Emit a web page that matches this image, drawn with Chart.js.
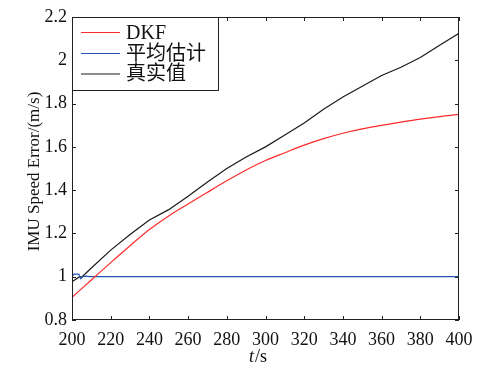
<!DOCTYPE html>
<html><head><meta charset="utf-8">
<script src="https://cdn.jsdelivr.net/npm/chart.js@4.4.1/dist/chart.umd.min.js"></script>
<style>html,body{margin:0;padding:0;background:#fff}#wrap{width:479px;height:369px}
.pre{position:absolute;left:-999px;top:0;font-family:'Liberation Serif';}
.pre2{position:absolute;left:-999px;top:0;font-family:'Noto Sans CJK SC';}</style>
</head><body><div class="pre">DKF 200 <i>t</i></div><div class="pre2">平均估计真实值</div>
<div id="wrap"><canvas id="c" width="479" height="369"></canvas></div>
<script>
const seriesNames = ['DKF', '平均估计', '真实值'];
const tDKF = [200,210,220,230,240,250,260,270,280,290,300,310,320,330,340,350,360,370,380,390,400];
const dkf  = [0.905,0.985,1.065,1.143,1.218,1.281,1.336,1.39,1.443,1.493,1.537,1.573,1.608,1.638,1.663,1.683,1.699,1.714,1.728,1.740,1.750];
const tAvg = [200,201,203.5,204.5,205.5,207,209,400];
const avg  = [1.0,1.012,1.012,0.991,1.0,1.003,1.0,1.0];
const tTrue = [200,204,205,207,210,220,230,240,250,260,270,280,290,300,310,320,330,340,350,360,370,380,390,400];
const truth = [0.977,1.0,0.998,1.015,1.04,1.123,1.195,1.262,1.31,1.372,1.438,1.5,1.553,1.6,1.655,1.71,1.774,1.83,1.88,1.93,1.968,2.013,2.069,2.125];
const xTickValues = [200,220,240,260,280,300,320,340,360,380,400];
const yTickValues = [0.8,1.0,1.2,1.4,1.6,1.8,2.0,2.2];
const xTitleItalic = 't';
const xTitleRest = '/s';
const yTitle = 'IMU Speed Error/(m/s)';

const colors = ['#ff2a2a', '#2454b0', '#1a1a1a'];
const toPts = (xs, ys) => xs.map((x, i) => ({x, y: ys[i]}));
const FONT = '"Liberation Serif", serif';

const framePlugin = {
  id: 'frame',
  afterDraw(chart) {
    const {ctx, chartArea: a, scales} = chart;
    const xs = scales.x, ys = scales.y;
    ctx.save();
    ctx.strokeStyle = '#222';
    ctx.lineWidth = 1;
    ctx.strokeRect(Math.round(a.left) + 0.5, Math.round(a.top) + 0.5, Math.round(a.right - a.left) - 1, Math.round(a.bottom - a.top) - 1);
    const tl = 4;
    ctx.beginPath();
    xTickValues.forEach(v => {
      const px = Math.round(xs.getPixelForValue(v)) + 0.5;
      ctx.moveTo(px, a.bottom); ctx.lineTo(px, a.bottom - tl);
      ctx.moveTo(px, a.top); ctx.lineTo(px, a.top + tl);
    });
    yTickValues.forEach(v => {
      const py = Math.round(ys.getPixelForValue(v)) + 0.5;
      ctx.moveTo(a.left, py); ctx.lineTo(a.left + tl, py);
      ctx.moveTo(a.right, py); ctx.lineTo(a.right - tl, py);
    });
    ctx.stroke();

    // legend
    const lx = Math.round(a.left) + 0.5, ly = Math.round(a.top) + 0.5;
    ctx.fillStyle = '#fff';
    ctx.fillRect(lx, ly, 146, 73);
    ctx.strokeStyle = '#222';
    ctx.strokeRect(lx, ly, 146, 73);
    const rows = [32.5, 53.5, 74];
    ctx.font = '20px "Liberation Serif", "Noto Sans CJK SC", serif';
    ctx.textBaseline = 'middle';
    ctx.textAlign = 'left';
    chart.data.datasets.forEach((ds, i) => {
      const y = rows[i];
      ctx.strokeStyle = ds.borderColor;
      ctx.lineWidth = 1.2;
      ctx.beginPath(); ctx.moveTo(a.left + 9, y); ctx.lineTo(a.left + 48, y); ctx.stroke();
      ctx.fillStyle = '#111';
      ctx.fillText(ds.label, a.left + 54, y + 1);
    });

    // y title
    ctx.save();
    ctx.translate(39, (a.top + a.bottom) / 2 + 3);
    ctx.rotate(-Math.PI / 2);
    ctx.font = '17px ' + FONT;
    ctx.textAlign = 'center';
    ctx.textBaseline = 'alphabetic';
    ctx.fillStyle = '#111';
    ctx.fillText(yTitle, 0, 0);
    ctx.restore();

    // x title
    ctx.fillStyle = '#111';
    ctx.textBaseline = 'alphabetic';
    ctx.textAlign = 'left';
    ctx.font = 'italic 18px ' + FONT;
    const w1 = ctx.measureText(xTitleItalic).width;
    ctx.font = '18px ' + FONT;
    const w2 = ctx.measureText(xTitleRest).width;
    const cx = (a.left + a.right) / 2 - 8;
    const sx = cx - (w1 + w2) / 2;
    ctx.font = 'italic 18px ' + FONT;
    ctx.fillText(xTitleItalic, sx, 362);
    ctx.font = '18px ' + FONT;
    ctx.fillText(xTitleRest, sx + w1 + 1, 362);
    ctx.restore();
  }
};

function draw() {
  new Chart(document.getElementById('c'), {
    type: 'line',
    data: {
      datasets: [
        {label: seriesNames[0], data: toPts(tDKF, dkf), borderColor: colors[0], borderWidth: 1.2, pointRadius: 0, tension: 0.4, cubicInterpolationMode: 'monotone', fill: false},
        {label: seriesNames[1], data: toPts(tAvg, avg), borderColor: colors[1], borderWidth: 1.2, pointRadius: 0, tension: 0, fill: false},
        {label: seriesNames[2], data: toPts(tTrue, truth), borderColor: colors[2], borderWidth: 1.2, pointRadius: 0, tension: 0, fill: false}
      ]
    },
    options: {
      responsive: false,
      animation: false,
      devicePixelRatio: 1,
      layout: {padding: {top: 17, right: 20, left: 0, bottom: 0}},
      plugins: {legend: {display: false}, tooltip: {enabled: false}},
      scales: {
        x: {
          type: 'linear', min: 200, max: 400,
          afterFit: s => { s.height = 49; s.paddingLeft = 0; s.paddingRight = 0; },
          afterBuildTicks: s => { s.ticks = xTickValues.map(v => ({value: v})); },
          grid: {display: false, drawTicks: false}, border: {display: false},
          ticks: {font: {family: FONT, size: 18}, color: '#111', padding: 9, maxRotation: 0, autoSkip: false}
        },
        y: {
          type: 'linear', min: 0.8, max: 2.2,
          afterFit: s => { s.width = 72; s.paddingTop = 0; s.paddingBottom = 0; },
          afterBuildTicks: s => { s.ticks = yTickValues.map(v => ({value: v})); },
          grid: {display: false, drawTicks: false}, border: {display: false},
          ticks: {font: {family: FONT, size: 18}, color: '#111', padding: 5, autoSkip: false,
            callback: v => String(Math.round(v * 10) / 10)}
        }
      }
    },
    plugins: [framePlugin]
  });
}
Promise.all([
  document.fonts.load('17px "Liberation Serif"'),
  document.fonts.load('italic 17px "Liberation Serif"'),
  document.fonts.load('20px "Noto Sans CJK SC"', '平均估计真实值')
]).then(draw, draw);
</script></body></html>
